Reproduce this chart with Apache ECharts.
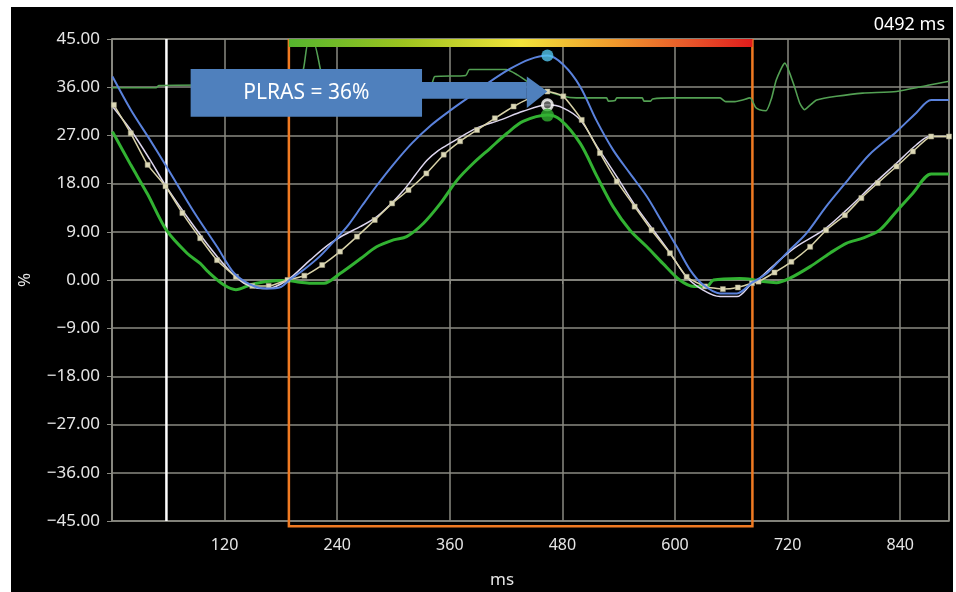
<!DOCTYPE html>
<html><head><meta charset="utf-8">
<script src="https://cdn.jsdelivr.net/npm/echarts@6/dist/echarts.min.js"></script>
<style>
html,body{margin:0;padding:0;background:#fff;width:956px;height:592px;overflow:hidden}
#bg{position:absolute;left:11px;top:7px;width:942px;height:585px;background:#000}
#chart{position:absolute;left:0;top:0;width:956px;height:592px}
</style></head><body><div id="bg"></div><div id="chart"></div>
<script>
// ---- data (ms, %) ----
const xTickLabels = [120, 240, 360, 480, 600, 720, 840];
const yTickLabels = [45, 36, 27, 18, 9, 0, -9, -18, -27, -36, -45];

const blueCurve = [[0.5,38.0],[20,31.8],[40,26.3],[58,21.2],[87,12.8],[112,6.2],[130,1.3],[148,-0.9],[165,-1.6],[180,-1.3],[189,0],[205,2.0],[222,4.5],[238,7.5],[252,10.3],[267,14],[282,17.6],[300,21.6],[320,25.6],[340,28.9],[360,31.6],[380,34.1],[401,36.8],[424,39.4],[445,41.2],[464,41.9],[481,40.2],[499,36.1],[516,29.9],[534,24.3],[552,19.9],[570,15.6],[587,10.6],[602,6.2],[616,1.9],[630,-0.9],[648,-2.5],[666,-2.5],[682,-0.5],[690,0.3],[700,1.6],[720,5.2],[740,8.7],[761,13.7],[783,18.4],[807,23.4],[836,27.7],[857,31.2],[873,33.6],[892,33.6]];

const whiteCurve = [[0.5,32.4],[20,28],[40,22.6],[58,17.4],[87.5,10],[112,4.4],[133.5,0.3],[148,-1.2],[165,-1.6],[187,0],[211,3.7],[230,6.5],[247,8.4],[265,10],[282,11.8],[296,14],[311,16.8],[324,19.8],[336,22.4],[348,24.2],[360,25.5],[389,28.4],[414,29.9],[438,31.5],[464,32.7],[481,32.1],[499,29.9],[517,24.9],[538,19.3],[556,14.3],[577,9.3],[595,5],[612,0.6],[630,-1.9],[648,-3.1],[666,-3.1],[682,-0.6],[690,0.3],[710,3.5],[729,6.2],[758,9.3],[783,13.1],[811,17.8],[836,21.8],[857,25.2],[871,26.8],[892,26.8]];

const beigeCurve = [[2,32.7],[20,27.4],[38,21.5],[57,17.5],[75,12.5],[94,7.8],[112,3.7],[132,0.6],[149.5,-1.1],[167,-1.1],[187,0],[205,0.8],[224,2.8],[243,5.3],[261,8.1],[280,11.2],[298.5,14.3],[316,16.8],[335,19.9],[353.5,23.4],[371,25.9],[389,28],[408,30.2],[428,32.4],[446,34],[464,35.2],[481,34.3],[500.6,29.9],[520,23.7],[538,18.4],[557,13.7],[575,9.3],[594.6,5],[612.4,0.6],[632,-1.2],[651,-1.7],[667,-1.4],[682,-0.6],[689,-0.3],[706,1.4],[724,3.4],[744,6.2],[761,9.3],[781,12.1],[798.6,15.3],[816,18.1],[836,21.2],[853.5,24],[873,26.8],[892,26.8]];

const greenCurve = [[0.5,27.7],[20,21.5],[38,16],[58,9.3],[80,5],[94,3.1],[102,1.6],[119,-0.9],[132,-1.8],[148,-0.9],[165,-0.3],[187,-0.1],[200,-0.4],[212,-0.6],[226,-0.6],[243,1.2],[265,4],[282,6.2],[300,7.5],[314,8.1],[332,10.6],[350,14.3],[368,18.7],[385,21.8],[403,24.6],[421,27.4],[438,29.6],[464,30.8],[478,29.9],[499,25.5],[517,19.3],[534,13.7],[552,9.3],[570,6.2],[587,3.1],[605,0],[620,-1.2],[634,-1.2],[641,0],[669,0.3],[682,0.1],[694,-0.3],[708,-0.5],[722,0.3],[744,2.5],[765,5],[783,6.9],[800,7.8],[818,9.3],[836,12.8],[853.5,16.2],[873,19.8],[892,19.8]];

const ecgCurve = [[0,35.9],[47,35.9],[50,36.3],[100,36.4],[196,36.4],[204,39.4],[209,44.3],[215,44.3],[222,39.4],[228,35],[236,36.4],[330,36.6],[341,36.8],[344,38],[377,38.2],[381,39.3],[420,39.3],[432,38.3],[445,36.8],[460,35.5],[481,34.3],[495,34],[527,34],[529,33.4],[536,33.5],[538,34],[565,34],[567,33.4],[574,33.4],[576,33.8],[598,34],[648,34],[654,33.3],[664,33.3],[672,33.6],[680,34],[686,32.2],[690,31.8],[697,31.6],[703,34],[708,37.4],[717,40.5],[726,36.8],[733,33],[738,31.8],[745,32.8],[751,33.6],[772,34.3],[800,34.9],[836,35.2],[871,36.4],[892,37.1]];

const peakTime = 464;
const peakBlue = 41.9;
const peakWhite = 32.7;
const peakGreen = 30.8;
const plrasValue = 35.2;
const plrasLabel = 'PLRAS = 36%';
const cursorTime = 58;
const frameStart = 188.5;
const frameEnd = 682.5;
const frameBottom = -46;
const barBottom = 43.5;

// ---- chart ----
const chart = echarts.init(document.getElementById('chart'), null, {renderer: 'canvas'});
const gridColor = '#8a8a82';
const labelFont = 'Noto Sans';

function renderFrame(params, api) {
  const c1 = api.coord([cursorTime, 45]);
  const c2 = api.coord([cursorTime, -45]);
  const tl = api.coord([frameStart, 45]);
  const bl = api.coord([frameStart, frameBottom]);
  const br = api.coord([frameEnd, frameBottom]);
  const tr = api.coord([frameEnd, 45]);
  return {type: 'group', children: [
    {type: 'line', shape: {x1: c1[0], y1: c1[1], x2: c2[0], y2: c2[1]}, style: {stroke: '#ffffff', lineWidth: 2.5}},
    {type: 'polyline', shape: {points: [tl, bl, br, tr]}, style: {stroke: '#f07a22', lineWidth: 2.5, fill: null}}
  ]};
}
function renderBar(params, api) {
  const a = api.coord([frameStart, 45]);
  const b = api.coord([frameEnd, barBottom]);
  return {type: 'rect', shape: {x: a[0], y: a[1], width: b[0] - a[0], height: b[1] - a[1]},
    style: {fill: new echarts.graphic.LinearGradient(0, 0, 1, 0, [
      {offset: 0, color: '#55b52e'}, {offset: 0.25, color: '#9ec41f'}, {offset: 0.5, color: '#f2e33a'},
      {offset: 0.7, color: '#f09a2c'}, {offset: 0.86, color: '#e8582a'}, {offset: 1, color: '#e01c1c'}])}};
}
function renderNote(params, api) {
  const b1 = api.coord([83.8, 39.4]);
  const b2 = api.coord([330.4, 30.5]);
  const s1 = api.coord([330, 36.96]);
  const s2 = api.coord([442.1, 33.84]);
  const h1 = api.coord([442.1, 38.0]);
  const h2 = api.coord([442.1, 32.1]);
  const tip = api.coord([peakTime, plrasValue]);
  const col = '#4f80bd';
  return {type: 'group', children: [
    {type: 'rect', shape: {x: b1[0], y: b1[1], width: b2[0] - b1[0], height: b2[1] - b1[1]}, style: {fill: col}},
    {type: 'rect', shape: {x: s1[0], y: s1[1], width: s2[0] - s1[0], height: s2[1] - s1[1]}, style: {fill: col}},
    {type: 'polygon', shape: {points: [h1, tip, h2]}, style: {fill: col}},
    {type: 'text', style: {text: plrasLabel, x: (b1[0] + b2[0]) / 2, y: (b1[1] + b2[1]) / 2,
      align: 'center', verticalAlign: 'middle', fill: '#ffffff', font: '21px "Noto Sans"'}}
  ]};
}

const option = {
  animation: false,
  backgroundColor: 'transparent',
  grid: {left: 112, right: 7, top: 39, bottom: 71, show: true, borderColor: gridColor, borderWidth: 1.5, backgroundColor: 'transparent'},
  xAxis: {
    type: 'value', min: 0, max: 892, interval: 120,
    axisLine: {show: true, lineStyle: {color: gridColor, width: 1.5}},
    axisTick: {show: true, length: 4, lineStyle: {color: gridColor}},
    splitLine: {show: true, lineStyle: {color: gridColor, width: 1.5}},
    axisLabel: {color: '#e6e6e6', fontFamily: labelFont, fontSize: 16, margin: 16,
      formatter: v => xTickLabels.indexOf(v) >= 0 ? String(v) : ''}
  },
  yAxis: {
    type: 'value', min: -45, max: 45, interval: 9,
    name: '%', nameLocation: 'middle', nameGap: 78, nameRotate: 90,
    nameTextStyle: {color: '#e6e6e6', fontFamily: labelFont, fontSize: 17},
    axisLine: {show: true, lineStyle: {color: gridColor, width: 1.5}},
    axisTick: {show: true, length: 5, lineStyle: {color: gridColor}},
    splitLine: {show: true, lineStyle: {color: gridColor, width: 1.5}},
    axisLabel: {color: '#e6e6e6', fontFamily: labelFont, fontSize: 17, margin: 12,
      formatter: v => yTickLabels.indexOf(v) >= 0 ? v.toFixed(2).replace('-', '\u2212') : ''}
  },
  graphic: [
    {type: 'text', x: 502, y: 580, style: {text: 'ms', align: 'center', verticalAlign: 'middle', fill: '#e6e6e6', font: '17px "Noto Sans"'}},
    {type: 'text', x: 945, y: 25, style: {text: '0492 ms', align: 'right', verticalAlign: 'middle', fill: '#ffffff', font: '18px "Noto Sans"'}}
  ],
  series: [
    {type: 'custom', coordinateSystem: 'cartesian2d', data: [[0, 0]], renderItem: renderFrame, silent: true, z: 1, clip: false},
    {type: 'line', name: 'ecg', data: ecgCurve, showSymbol: false, smooth: 0.2, lineStyle: {color: '#53a053', width: 1.6}, z: 2},
    {type: 'custom', coordinateSystem: 'cartesian2d', data: [[0, 0]], renderItem: renderBar, silent: true, z: 3, clip: false},
    {type: 'line', name: 'green', data: greenCurve, showSymbol: false, smooth: 0.3, lineStyle: {color: '#32b232', width: 3}, z: 4},
    {type: 'line', name: 'white', data: whiteCurve, showSymbol: false, smooth: 0.3, lineStyle: {color: '#ddd6ee', width: 1.5}, z: 5},
    {type: 'line', name: 'beige', data: beigeCurve, symbol: 'rect', symbolSize: 5, smooth: 0.15,
      itemStyle: {color: '#dcd8b6', borderColor: '#a8a488', borderWidth: 0.5}, lineStyle: {color: '#d8d2a8', width: 1.5}, z: 6},
    {type: 'line', name: 'blue', data: blueCurve, showSymbol: false, smooth: 0.3, lineStyle: {color: '#5a82dc', width: 2}, z: 7},
    {type: 'scatter', data: [[peakTime, peakBlue]], symbolSize: 12, itemStyle: {color: '#52c6ee'}, z: 8},
    {type: 'scatter', data: [[peakTime, peakWhite]], symbolSize: 10, itemStyle: {color: '#777777', borderColor: '#ffffff', borderWidth: 3}, z: 8},
    {type: 'scatter', data: [[peakTime, peakGreen]], symbolSize: 13, itemStyle: {color: '#32b232'}, z: 8},
    {type: 'custom', coordinateSystem: 'cartesian2d', data: [[0, 0]], renderItem: renderNote, silent: true, z: 10, clip: false}
  ]
};
chart.setOption(option);
</script></body></html>
